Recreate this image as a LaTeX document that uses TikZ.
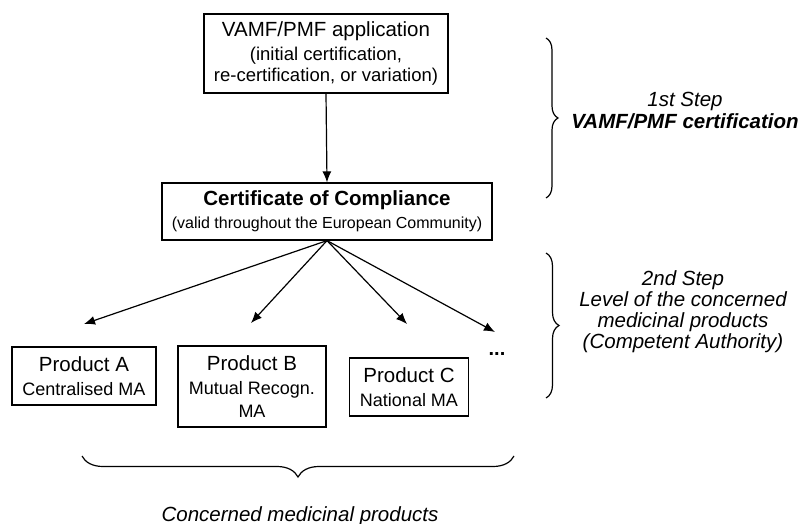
\documentclass[tikz,border=0pt]{standalone}
\usepackage{fontspec}
\setmainfont{Liberation Sans}
\usetikzlibrary{arrows.meta,decorations.pathreplacing}
\begin{document}
\begin{tikzpicture}[x=1pt,y=-1pt,
  box/.style={draw, line width=1.2pt, inner sep=0pt, align=center},
  arr/.style={line width=1.2pt, -{Latex[length=11pt,width=9pt]}},
  brc/.style={line width=1.2pt, decorate, decoration={brace, amplitude=#1}},
  side/.style={align=center, font=\fontsize{20.5}{21}\selectfont\itshape}
]
\useasboundingbox (0,0) rectangle (803,524);

\node[box, minimum width=244pt, minimum height=79pt,
      font=\fontsize{18.5}{21.5}\selectfont] (app) at (326,53.5)
  {\fontsize{20.5}{24}\selectfont VAMF/PMF application\\[2.5pt]
   (initial certification,\\
   re-certification, or variation)};

\node[box, minimum width=330pt, minimum height=57pt,
      font=\fontsize{16}{23}\selectfont] (coc) at (327,211.5)
  {\fontsize{20.5}{23}\selectfont\bfseries Certificate of Compliance\\
   (valid throughout the European Community)};

\node[box, minimum width=144pt, minimum height=58pt,
      font=\fontsize{18}{23}\selectfont] (pa) at (84,376)
  {\fontsize{20.5}{23}\selectfont Product A\\[1pt]
   Centralised MA};
\node[box, minimum width=148pt, minimum height=81pt,
      font=\fontsize{18}{23}\selectfont] (pb) at (252,386.5)
  {\fontsize{20.5}{23}\selectfont Product B\\[1pt]
   Mutual Recogn.\\
   MA};
\node[box, minimum width=119pt, minimum height=58pt,
      font=\fontsize{18}{23}\selectfont] (pc) at (409,387)
  {\fontsize{20.5}{23}\selectfont Product C\\[1pt]
   National MA};
\node[font=\fontsize{20}{23}\selectfont\bfseries] (dots) at (497,354) {...};

\coordinate (ta) at (84,324);
\coordinate (tb) at (251,323);
\coordinate (tc) at (407,324);
\coordinate (td) at (495,332);

\draw[arr] (app.south) -- (coc.north);
\draw[arr] (coc.south) -- (ta);
\draw[arr] (coc.south) -- (tb);
\draw[arr] (coc.south) -- (tc);
\draw[arr] (coc.south) -- (td);

\coordinate (b1t) at (546,38);
\coordinate (b1b) at (546,198);
\coordinate (b2t) at (546,253);
\coordinate (b2b) at (546,398);
\coordinate (b3r) at (514,456);
\coordinate (b3l) at (82,456);
\draw[brc=12pt] (b1t) -- (b1b);
\draw[brc=13pt] (b2t) -- (b2b);
\draw[brc=21pt] (b3r) -- (b3l);

\node[side] (s1a) at (685,101) {1st Step};
\node[side, font=\fontsize{20.5}{21}\selectfont\itshape\bfseries] (s1b) at (685,121) {VAMF/PMF certification};
\node[side] (s2) at (683,311.5) {2nd Step\\Level of the concerned\\medicinal products\\(Competent Authority)};
\node[side] (s3) at (300,516) {Concerned medicinal products};
\end{tikzpicture}
\end{document}
